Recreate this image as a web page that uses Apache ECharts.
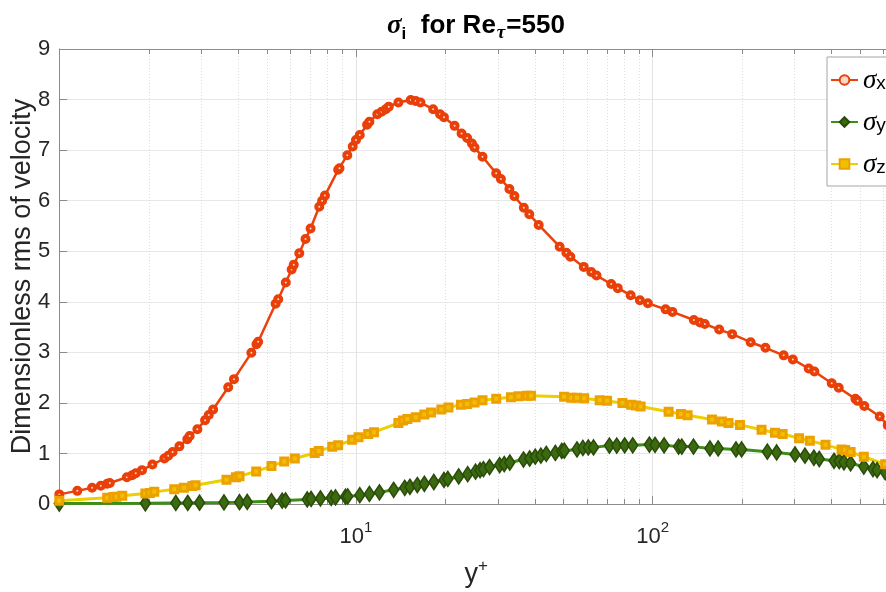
<!DOCTYPE html>
<html>
<head>
<meta charset="utf-8">
<script src="https://cdn.jsdelivr.net/npm/echarts@6/dist/echarts.min.js"></script>
<style>
  html, body { margin: 0; padding: 0; background: #fff; }
  #chart { width: 886px; height: 592px; }
</style>
</head>
<body>
<div id="chart"></div>
<script>
// rms velocity profiles against wall distance y+
const yPlusX = [1.0, 1.15, 1.29, 1.38, 1.45, 1.48, 1.69, 1.76, 1.81, 1.90, 2.06, 2.26, 2.33, 2.41, 2.54, 2.70, 2.75, 2.92,
  3.10, 3.19, 3.30, 3.71, 3.88, 4.44, 4.62, 4.68, 5.36, 5.47, 5.80, 6.07, 6.17, 6.44, 6.76, 7.03, 7.52, 7.69, 7.86,
  8.71, 8.80, 9.35, 9.75, 10.0, 10.3, 10.9, 11.1, 11.8, 12.2, 12.6, 12.9, 13.9, 15.3, 15.9, 16.5, 18.2, 19.2, 19.8,
  21.5, 22.7, 23.7, 24.6, 25.1, 26.7, 29.7, 30.8, 32.9, 34.2, 36.8, 38.4, 41.3, 48.6, 51.2, 52.8, 58.6, 62.1, 64.7,
  72.5, 76.3, 84.3, 90.6, 96.4, 110.6, 116.6, 137.7, 144.4, 149.9, 167.6, 185.4, 214, 240, 276.5, 297, 335.7, 351,
  401.5, 424, 482.7, 491, 517, 583, 620];
const sigmaX = [0.19, 0.26, 0.32, 0.36, 0.40, 0.415, 0.53, 0.57, 0.61, 0.67, 0.78, 0.90, 0.955, 1.03, 1.14, 1.28, 1.345, 1.48,
  1.655, 1.76, 1.87, 2.31, 2.47, 2.99, 3.16, 3.21, 3.96, 4.05, 4.38, 4.64, 4.73, 4.96, 5.24, 5.45, 5.88, 6.00, 6.10,
  6.61, 6.64, 6.90, 7.07, 7.20, 7.30, 7.50, 7.56, 7.71, 7.76, 7.81, 7.86, 7.94, 7.99, 7.97, 7.94, 7.81, 7.71, 7.65,
  7.48, 7.33, 7.24, 7.13, 7.05, 6.87, 6.54, 6.43, 6.23, 6.09, 5.86, 5.73, 5.52, 5.09, 4.97, 4.89, 4.69, 4.59, 4.52,
  4.35, 4.27, 4.13, 4.03, 3.97, 3.85, 3.80, 3.64, 3.59, 3.56, 3.45, 3.36, 3.20, 3.09, 2.94, 2.86, 2.68, 2.62,
  2.39, 2.30, 2.08, 2.04, 1.94, 1.73, 1.56];

const yPlusY = [1.0, 1.95, 2.47, 2.71, 2.97, 3.59, 4.05, 4.30, 5.19, 5.64, 5.79, 6.85, 7.06, 7.59, 8.25, 8.53, 9.22, 9.38,
  10.3, 11.1, 12.0, 13.4, 14.6, 15.2, 16.1, 17.0, 18.3, 19.8, 20.4, 22.2, 23.8, 25.3, 26.2, 26.9, 28.2, 30.5, 31.6,
  33.0, 36.7, 38.5, 40.2, 42.0, 43.8, 47.0, 49.4, 50.4, 55.6, 58.2, 60.7, 63.2, 71.5, 75.7, 80.5, 85.7, 97.5, 101.9,
  109.3, 122.3, 125.4, 137.3, 156.0, 166.3, 191, 199.5, 243.6, 261.8, 302, 326.2, 349.6, 364.5, 408.7, 425.5, 441.4,
  464.9, 515, 553, 571, 608];
const sigmaY = [0.01, 0.015, 0.02, 0.02, 0.025, 0.03, 0.035, 0.04, 0.055, 0.065, 0.07, 0.09, 0.10, 0.11, 0.12, 0.13, 0.145, 0.15,
  0.175, 0.20, 0.23, 0.28, 0.32, 0.34, 0.375, 0.40, 0.435, 0.475, 0.495, 0.545, 0.59, 0.64, 0.67, 0.69, 0.73, 0.77, 0.79,
  0.82, 0.88, 0.90, 0.935, 0.955, 0.99, 1.01, 1.05, 1.055, 1.08, 1.11, 1.12, 1.12, 1.155, 1.155, 1.16, 1.16, 1.175, 1.17,
  1.16, 1.135, 1.135, 1.135, 1.10, 1.10, 1.08, 1.08, 1.035, 1.02, 0.98, 0.955, 0.915, 0.89, 0.855, 0.85, 0.825,
  0.805, 0.74, 0.69, 0.67, 0.63];

const yPlusZ = [1.0, 1.45, 1.52, 1.56, 1.63, 1.95, 2.02, 2.09, 2.44, 2.63, 2.81, 2.88, 3.66, 3.94, 4.05, 4.61, 5.19, 5.73,
  6.22, 7.26, 7.49, 8.32, 8.71, 9.71, 10.2, 11.0, 11.5, 13.9, 14.4, 14.9, 15.9, 17.0, 17.9, 19.4, 20.5, 22.6, 23.7,
  25.1, 26.7, 29.7, 33.3, 35.3, 37.7, 38.9, 50.3, 53.2, 55.6, 58.8, 66.3, 70.2, 79.1, 84.6, 87.9, 91.1, 113.2, 124.6,
  131.2, 158.5, 171.2, 180.2, 197, 232.9, 258.5, 274.3, 311.7, 338.8, 382.6, 433.4, 445.8, 464.9, 515, 608];
const sigmaZ = [0.065, 0.125, 0.14, 0.145, 0.165, 0.21, 0.22, 0.24, 0.29, 0.32, 0.355, 0.37, 0.48, 0.53, 0.55, 0.645, 0.75, 0.84,
  0.90, 1.01, 1.05, 1.13, 1.16, 1.27, 1.32, 1.385, 1.42, 1.60, 1.65, 1.68, 1.715, 1.77, 1.81, 1.87, 1.91, 1.965, 1.98,
  2.01, 2.05, 2.08, 2.11, 2.13, 2.14, 2.14, 2.12, 2.10, 2.10, 2.09, 2.05, 2.04, 2.00, 1.965, 1.95, 1.93, 1.825, 1.78,
  1.755, 1.67, 1.63, 1.60, 1.565, 1.47, 1.41, 1.385, 1.30, 1.25, 1.17, 1.08, 1.07, 1.03, 0.935, 0.785];

// axis ranges, labelled decades and the minor log ticks in between
const xRange = [1, 646];
const yRange = [0, 9];
const labelledExponents = [1, 2];
const minorTicks = [2, 3, 4, 5, 6, 7, 8, 9, 20, 30, 40, 50, 60, 70, 80, 90, 200, 300, 400, 500, 600];

const axisColor = '#8c8c8c';
const textColor = '#262626';
const sans = "'Liberation Sans', Arial, Helvetica, sans-serif";
const greek = "'Liberation Serif', 'DejaVu Serif', serif";

const zip = (xs, ys) => xs.map((x, i) => [x, ys[i]]);

const chart = echarts.init(document.getElementById('chart'), null, { renderer: 'canvas' });

chart.setOption({
  animation: false,
  backgroundColor: '#ffffff',
  textStyle: { fontFamily: sans },
  title: {
    text: '{s|σ}{sub|i}{b|  for Re}{t|τ}{b|=550}',
    left: 382,
    top: 8,
    textStyle: {
      rich: {
        s: { fontFamily: greek, fontStyle: 'italic', fontSize: 27, color: '#000', lineHeight: 30, verticalAlign: 'top' },
        sub: { fontFamily: sans, fontWeight: 'bold', fontSize: 17, color: '#000', lineHeight: 6, verticalAlign: 'bottom' },
        b: { fontFamily: sans, fontWeight: 'bold', fontSize: 26, color: '#000', lineHeight: 30, verticalAlign: 'top' },
        t: { fontFamily: greek, fontStyle: 'italic', fontSize: 19, color: '#000', lineHeight: 4, verticalAlign: 'bottom', padding: [0, 1, 0, 1] }
      }
    }
  },
  legend: {
    data: ['σx', 'σy', 'σz'],
    orient: 'vertical',
    left: 827,
    top: 57,
    backgroundColor: '#ffffff',
    borderColor: '#a6a6a6',
    borderWidth: 1,
    borderRadius: 0,
    padding: [10, 30, 8, 3],
    itemGap: 15,
    itemWidth: 27,
    itemHeight: 12,
    formatter: name => '{s|σ}{sub|' + name.slice(-1) + '}',
    textStyle: {
      rich: {
        s: { fontFamily: greek, fontStyle: 'italic', fontSize: 27, color: '#000', lineHeight: 26, verticalAlign: 'top' },
        sub: { fontFamily: sans, fontSize: 19, color: '#000', lineHeight: 4, verticalAlign: 'bottom' }
      }
    }
  },
  grid: {
    left: 59.3,
    top: 49,
    bottom: 88,
    right: -7,
    containLabel: false,
    outerBoundsMode: 'none'
  },
  xAxis: [
    {
      type: 'log',
      logBase: 10,
      min: xRange[0],
      max: xRange[1],
      name: '{y|y}{p|+}',
      nameLocation: 'middle',
      nameGap: 54,
      nameMoveOverlap: false,
      nameTextStyle: {
        rich: {
          y: { fontFamily: sans, fontSize: 27, color: textColor, lineHeight: 30, verticalAlign: 'bottom' },
          p: { fontFamily: sans, fontSize: 17, color: textColor, lineHeight: 10, verticalAlign: 'top' }
        }
      },
      axisLine: { show: true, lineStyle: { color: axisColor, width: 1 } },
      axisTick: { show: true, inside: true, length: 8, lineStyle: { color: axisColor } },
      axisLabel: {
        margin: 16,
        showMinLabel: false,
        showMaxLabel: false,
        formatter: v => {
          const e = Math.round(Math.log10(v));
          if (Math.abs(Math.log10(v) - e) > 1e-6 || !labelledExponents.includes(e)) return '';
          return '{b|10}{p|' + e + '}';
        },
        rich: {
          b: { fontFamily: sans, fontSize: 22, color: textColor, lineHeight: 28, verticalAlign: 'bottom' },
          p: { fontFamily: sans, fontSize: 15, color: textColor, lineHeight: 12, verticalAlign: 'top' }
        }
      },
      splitLine: { show: true, lineStyle: { color: '#e3e3e3', width: 1 } }
    },
    {
      type: 'log',
      logBase: 10,
      position: 'top',
      min: xRange[0],
      max: xRange[1],
      axisLine: { show: true, lineStyle: { color: axisColor, width: 1 } },
      axisTick: { show: true, inside: true, length: 8, lineStyle: { color: axisColor } },
      axisLabel: { show: false },
      splitLine: { show: false }
    }
  ],
  yAxis: {
    type: 'value',
    min: yRange[0],
    max: yRange[1],
    interval: 1,
    name: 'Dimensionless rms of velocity',
    nameLocation: 'middle',
    nameGap: 23,
    nameMoveOverlap: false,
    nameTextStyle: { fontFamily: sans, fontSize: 27, color: textColor },
    axisLine: { show: true, lineStyle: { color: axisColor, width: 1 } },
    axisTick: { show: true, inside: true, length: 8, lineStyle: { color: axisColor } },
    axisLabel: { margin: 9, fontFamily: sans, fontSize: 22, color: textColor },
    splitLine: { show: true, lineStyle: { color: '#e8e8e8', width: 1 } }
  },
  series: [
    {
      // dotted minor grid lines and minor ticks of the log axis
      type: 'custom',
      silent: true,
      z: 1,
      clip: false,
      data: minorTicks.map(v => [v, yRange[0]]),
      encode: { x: 0, y: 1 },
      renderItem: (params, api) => {
        const v = api.value(0);
        const b = api.coord([v, yRange[0]]);
        const t = api.coord([v, yRange[1]]);
        const x = Math.round(b[0]) + 0.5;
        return {
          type: 'group',
          children: [
            { type: 'line', shape: { x1: x, y1: b[1], x2: x, y2: t[1] },
              style: { stroke: '#dcdcdc', lineWidth: 1, lineDash: [1, 2] } },
            { type: 'line', shape: { x1: x, y1: b[1], x2: x, y2: b[1] - 5 },
              style: { stroke: axisColor, lineWidth: 1 } },
            { type: 'line', shape: { x1: x, y1: t[1], x2: x, y2: t[1] + 5 },
              style: { stroke: axisColor, lineWidth: 1 } }
          ]
        };
      }
    },
    {
      name: 'σx',
      type: 'line',
      z: 3,
      data: zip(yPlusX, sigmaX),
      showAllSymbol: true,
      symbol: 'circle',
      symbolSize: 6,
      lineStyle: { color: '#e9420c', width: 2.5 },
      itemStyle: { color: '#fbd8c8', borderColor: '#e93f08', borderWidth: 4 }
    },
    {
      name: 'σy',
      type: 'line',
      z: 3,
      data: zip(yPlusY, sigmaY),
      showAllSymbol: true,
      symbol: 'diamond',
      symbolSize: [10, 15],
      lineStyle: { color: '#3c8f16', width: 3 },
      itemStyle: { color: '#3b6a10', borderColor: '#2a4c08', borderWidth: 1.6 }
    },
    {
      name: 'σz',
      type: 'line',
      z: 3,
      data: zip(yPlusZ, sigmaZ),
      showAllSymbol: true,
      symbol: 'rect',
      symbolSize: 7,
      lineStyle: { color: '#ebcf00', width: 3 },
      itemStyle: { color: '#f0c000', borderColor: '#eda100', borderWidth: 3 }
    }
  ]
});
</script>
</body>
</html>
